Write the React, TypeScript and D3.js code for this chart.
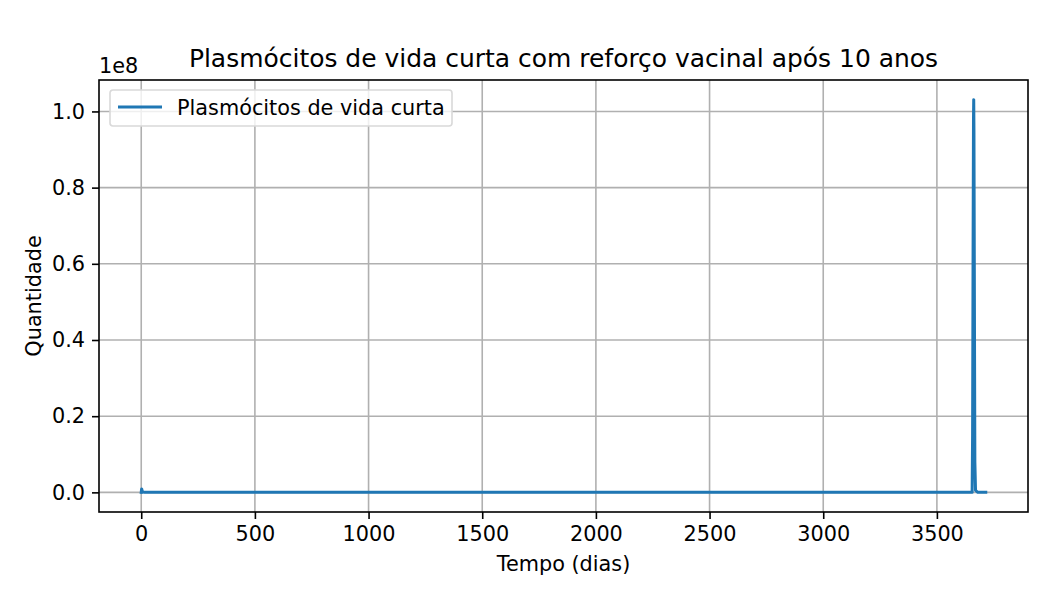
import React, { useEffect, useRef } from 'react';
import * as d3 from 'd3';

// time in days, quantity of short-lived plasma cells
const days = [0, 1, 2, 4, 8, 15, 30, 100, 1000, 3000, 3650, 3655, 3657, 3659, 3661, 3662, 3663, 3665, 3667, 3670, 3680, 3715];
const cells = [0, 6e5, 9e5, 4e5, 6e4, 5e3, 100, 0, 0, 0, 0, 0, 1.5e7, 6e7, 9.8e7, 1.031e8, 9.5e7, 5e7, 8e6, 5e5, 1e3, 0];

const xTicks = [0, 500, 1000, 1500, 2000, 2500, 3000, 3500];
const yTicks = [0, 0.2e8, 0.4e8, 0.6e8, 0.8e8, 1.0e8];

const title = 'Plasmócitos de vida curta com reforço vacinal após 10 anos';
const seriesName = 'Plasmócitos de vida curta';

const App = () => {
    const svgRef = useRef<SVGSVGElement>(null);

    useEffect(() => {
        const margin = { top: 80, right: 22, bottom: 88, left: 99 };
        const width = 1050 - margin.left - margin.right;
        const height = 600 - margin.top - margin.bottom;
        const font = 'DejaVu Sans, sans-serif';
        const fs = 20.8;

        const xMax = d3.max(days) as number;
        const yMax = d3.max(cells) as number;
        const xPad = xMax * 0.05;
        const yPad = yMax * 0.05;

        const x = d3.scaleLinear().domain([-xPad, xMax + xPad]).range([0, width]);
        const y = d3.scaleLinear().domain([-yPad, yMax + yPad]).range([height, 0]);

        const svg = d3.select(svgRef.current);
        svg.selectAll('*').remove();

        svg.append('rect').attr('width', 1050).attr('height', 600).attr('fill', '#fff');

        const g = svg.append('g').attr('transform', `translate(${margin.left},${margin.top})`);

        // grid
        g.append('g')
            .selectAll('line')
            .data(xTicks)
            .enter()
            .append('line')
            .attr('x1', d => x(d)).attr('x2', d => x(d))
            .attr('y1', 0).attr('y2', height)
            .attr('stroke', '#b0b0b0').attr('stroke-width', 1.6);
        g.append('g')
            .selectAll('line')
            .data(yTicks)
            .enter()
            .append('line')
            .attr('x1', 0).attr('x2', width)
            .attr('y1', d => y(d)).attr('y2', d => y(d))
            .attr('stroke', '#b0b0b0').attr('stroke-width', 1.6);

        // series
        const line = d3.line<number>()
            .x((d, i) => x(days[i]))
            .y(d => y(d));
        g.append('path')
            .datum(cells)
            .attr('d', line)
            .attr('fill', 'none')
            .attr('stroke', '#1f77b4')
            .attr('stroke-width', 3)
            .attr('stroke-linejoin', 'round')
            .attr('stroke-linecap', 'square');

        // axes
        const xAxis = g.append('g')
            .attr('transform', `translate(0,${height})`)
            .call(d3.axisBottom(x).tickValues(xTicks).tickFormat(d3.format('d')).tickSizeOuter(0).tickSize(7).tickPadding(7));
        const yAxis = g.append('g')
            .call(d3.axisLeft(y).tickValues(yTicks).tickFormat(d => (+d / 1e8).toFixed(1)).tickSizeOuter(0).tickSize(7).tickPadding(7));
        [xAxis, yAxis].forEach(a => {
            a.select('.domain').remove();
            a.selectAll('line').attr('stroke', '#000').attr('stroke-width', 1.6);
            a.selectAll('text').attr('font-family', font).attr('font-size', fs).attr('fill', '#000');
        });

        // frame
        g.append('rect')
            .attr('width', width).attr('height', height)
            .attr('fill', 'none').attr('stroke', '#000').attr('stroke-width', 1.6);

        // titles
        svg.append('text')
            .attr('x', margin.left + width / 2).attr('y', 67)
            .attr('text-anchor', 'middle')
            .attr('font-family', font).attr('font-size', fs * 1.2)
            .text(title);
        svg.append('text')
            .attr('x', margin.left).attr('y', 73)
            .attr('font-family', font).attr('font-size', fs)
            .text('1e8');
        svg.append('text')
            .attr('x', margin.left + width / 2).attr('y', 571)
            .attr('text-anchor', 'middle')
            .attr('font-family', font).attr('font-size', fs)
            .text('Tempo (dias)');
        svg.append('text')
            .attr('transform', `translate(41,${margin.top + height / 2}) rotate(-90)`)
            .attr('text-anchor', 'middle')
            .attr('font-family', font).attr('font-size', fs)
            .text('Quantidade');

        // legend
        const legend = g.append('g').attr('transform', 'translate(11,10)');
        legend.append('rect')
            .attr('width', 342).attr('height', 36).attr('rx', 3)
            .attr('fill', '#fff').attr('fill-opacity', 0.8)
            .attr('stroke', '#d9d9d9').attr('stroke-width', 1.6);
        legend.append('line')
            .attr('x1', 8).attr('x2', 52).attr('y1', 17).attr('y2', 17)
            .attr('stroke', '#1f77b4').attr('stroke-width', 3);
        legend.append('text')
            .attr('x', 67).attr('y', 24.5)
            .attr('font-family', font).attr('font-size', fs)
            .text(seriesName);
    }, []);

    return <svg ref={svgRef} width={1050} height={600} style={{ display: 'block', margin: -8 }}></svg>;
};

export default App;
